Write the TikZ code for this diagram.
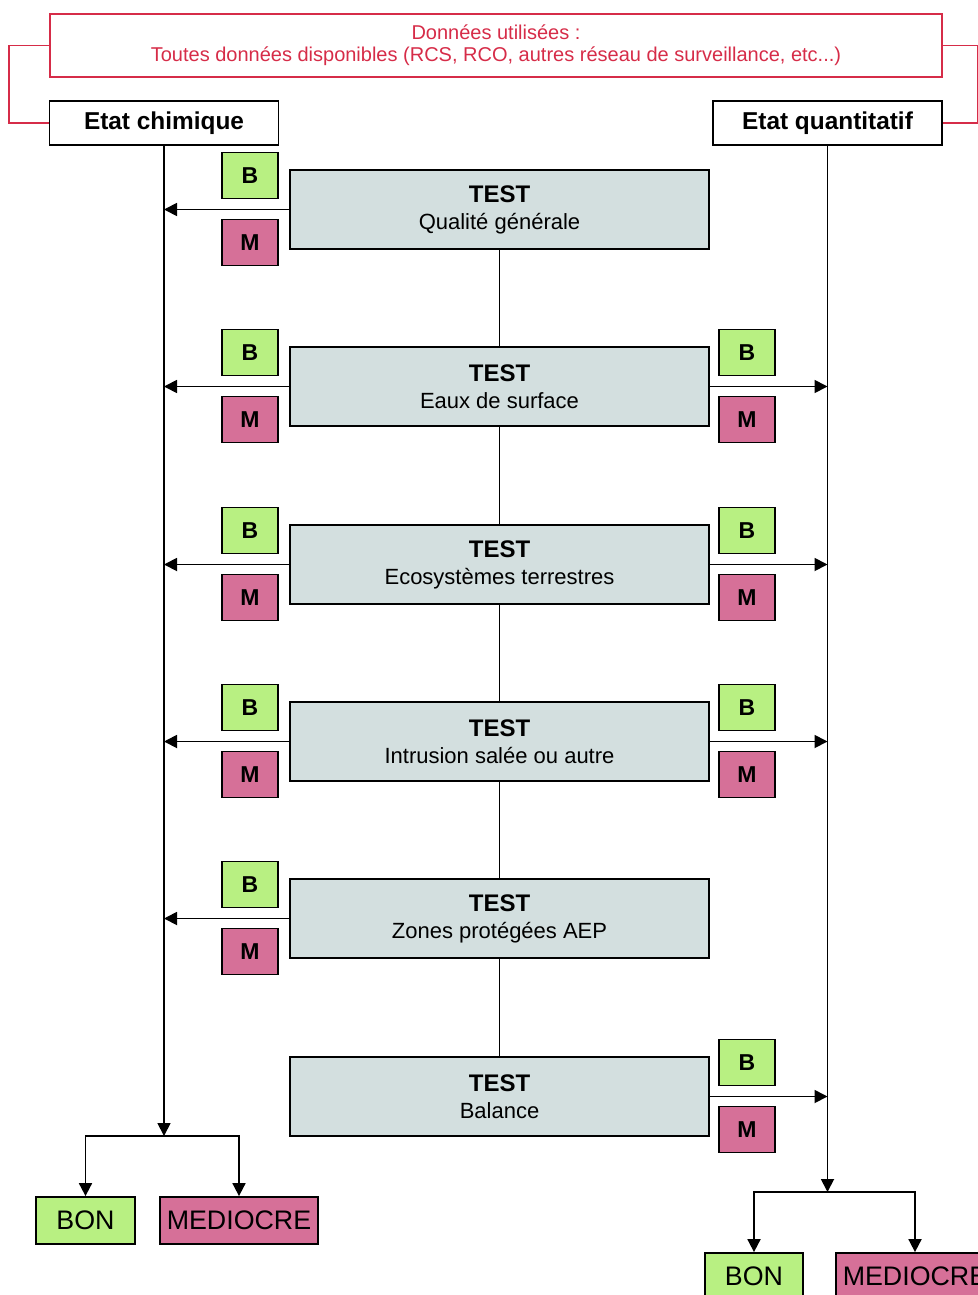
\documentclass[tikz,border=0pt]{standalone}
\usepackage{fontspec}
\setmainfont{Liberation Sans}
\usetikzlibrary{arrows.meta}

\definecolor{testgray}{RGB}{211,223,223}
\definecolor{bgreen}{RGB}{184,240,130}
\definecolor{mpink}{RGB}{214,112,152}
\definecolor{datared}{RGB}{214,44,72}

\begin{document}
\begin{tikzpicture}[x=0.5pt, y=-0.5pt, line width=0.9pt,
  every node/.style = {shape=rectangle, draw, inner sep=0pt, align=center},
  arr/.style = {-{Triangle[length=6.5pt, width=6.5pt]}},
  datanode/.style = {draw=datared, text=datared, minimum width=446pt,
    minimum height=31.5pt, font=\fontsize{10}{11}\selectfont},
  etat/.style = {fill=white, minimum width=114.5pt, minimum height=22pt,
    font=\bfseries\fontsize{12.2}{13}\selectfont},
  test/.style = {fill=testgray, minimum width=209.5pt, minimum height=39.5pt,
    font=\fontsize{11}{13.5}\selectfont},
  bbox/.style = {fill=bgreen, minimum width=28pt, minimum height=23pt,
    font=\bfseries\fontsize{11.5}{13}\selectfont},
  mbox/.style = {bbox, fill=mpink},
  result/.style = {minimum height=23.5pt, font=\fontsize{13.4}{14}\selectfont}]
  \useasboundingbox (0,0) rectangle (978,1295);

  % donnees et etats
  \node[datanode] (data) at (496,45.5) {Données utilisées :\\
    Toutes données disponibles (RCS, RCO, autres réseau de surveillance, etc...)};
  \node[etat] (chim) at (164,123) {Etat chimique};
  \node[etat] (quant) at (827.5,123) {Etat quantitatif};
  \draw[datared] (data.west) -- ++(-40,0) |- (chim);
  \draw[datared] (data.east) -- ++(35,0) |- (quant);

  % tests
  \foreach \i/\y/\txt/\l/\r in {1/209.5/Qualité générale/1/0,
      2/386.5/Eaux de surface/1/1, 3/564.5/Ecosystèmes terrestres/1/1,
      4/741.5/Intrusion salée ou autre/1/1, 5/918.5/Zones protégées AEP/1/0,
      6/1096.5/Balance/0/1} {
    \node[test] (t\i) at (499.5,\y) {{\bfseries\fontsize{12}{13.5}\selectfont TEST}\\\txt};
    \ifnum\l=1
      \node[bbox] (bl\i) at (250,{\y-34}) {B};
      \node[mbox] (ml\i) at (250,{\y+33}) {M};
      \draw[arr] (t\i) -- (t\i -| chim);
    \fi
    \ifnum\r=1
      \node[bbox] (br\i) at (747,{\y-34}) {B};
      \node[mbox] (mr\i) at (747,{\y+33}) {M};
      \draw[arr] (t\i) -- (t\i -| quant);
    \fi
  }
  \foreach \i/\j in {1/2, 2/3, 3/4, 4/5, 5/6}
    \draw (t\i) -- (t\j);

  % resultats
  \coordinate (cbot) at (164,1136);
  \coordinate (qbot) at (827.5,1192);
  \node[result, fill=bgreen, minimum width=49.5pt] (cbon) at (85.5,1220.5) {BON};
  \node[result, fill=mpink, minimum width=79pt] (cmed) at (239,1220.5) {MEDIOCRE};
  \node[result, fill=bgreen, minimum width=49pt] (qbon) at (754,1276.5) {BON};
  \node[result, fill=mpink, minimum width=79pt] (qmed) at (915,1276.5) {MEDIOCRE};
  \draw[arr] (chim) -- (cbot);
  \draw[arr] (quant) -- (qbot);
  \draw[arr] (cbot) -| (cbon);
  \draw[arr] (cbot) -| (cmed);
  \draw[arr] (qbot) -| (qbon);
  \draw[arr] (qbot) -| (qmed);
\end{tikzpicture}
\end{document}
